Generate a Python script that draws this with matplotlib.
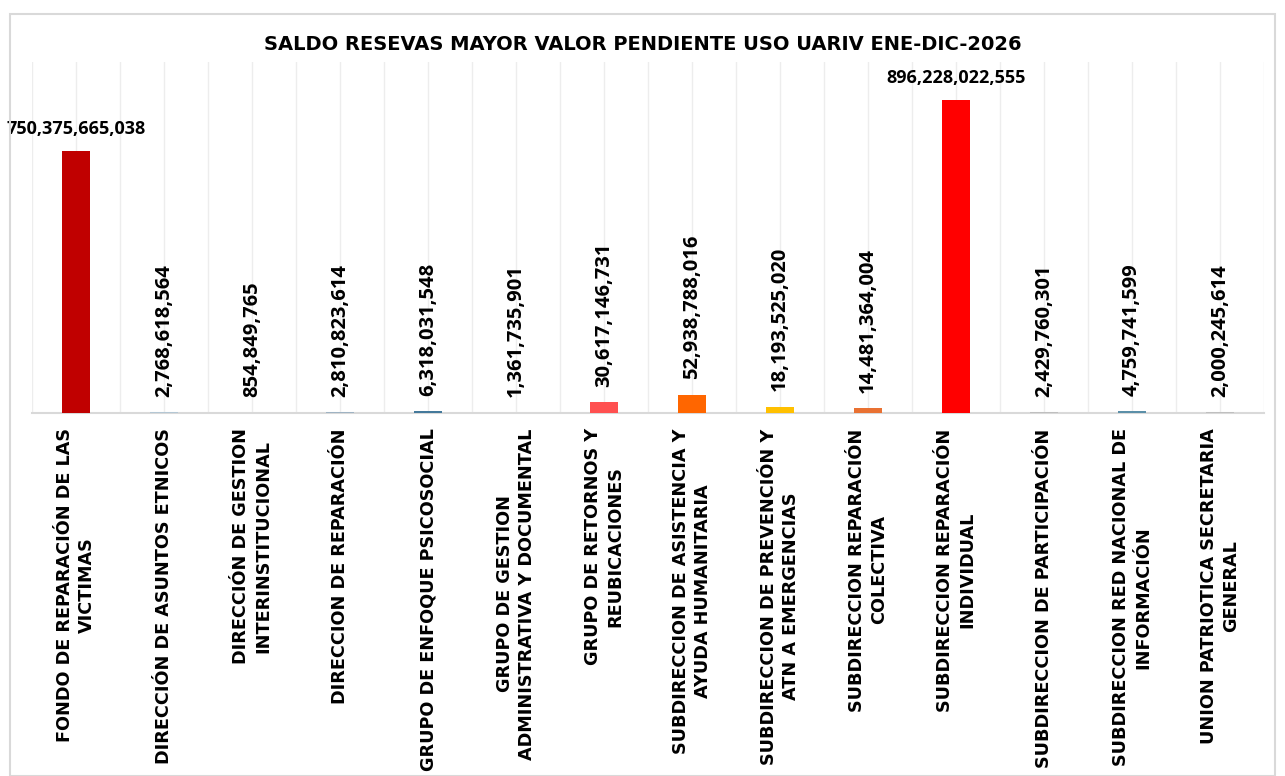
import matplotlib.pyplot as plt
from matplotlib.patches import Rectangle

plt.rcParams['font.family'] = ['DejaVu Sans']
NUM_FONT = ['Open Sans', 'DejaVu Sans']

# data
categorias = [
    "FONDO DE REPARACIÓN DE LAS\nVICTIMAS",
    "DIRECCIÓN DE ASUNTOS ETNICOS",
    "DIRECCIÓN DE GESTION\nINTERINSTITUCIONAL",
    "DIRECCION DE REPARACIÓN",
    "GRUPO DE ENFOQUE PSICOSOCIAL",
    "GRUPO DE GESTION\nADMINISTRATIVA Y DOCUMENTAL",
    "GRUPO DE RETORNOS Y\nREUBICACIONES",
    "SUBDIRECCION DE ASISTENCIA Y\nAYUDA HUMANITARIA",
    "SUBDIRECCION DE PREVENCIÓN Y\nATN A EMERGENCIAS",
    "SUBDIRECCION REPARACIÓN\nCOLECTIVA",
    "SUBDIRECCION REPARACIÓN\nINDIVIDUAL",
    "SUBDIRECCION DE PARTICIPACIÓN",
    "SUBDIRECCION RED NACIONAL DE\nINFORMACIÓN",
    "UNION PATRIOTICA SECRETARIA\nGENERAL",
]
saldos = [
    750375665038, 2768618564, 854849765, 2810823614, 6318031548,
    1361735901, 30617146731, 52938788016, 18193525020, 14481364004,
    896228022555, 2429760301, 4759741599, 2000245614,
]
colores = [
    "#C00000", "#B4C7D4", "#A6A6A6", "#9FB3C3", "#44799B",
    "#BFBFBF", "#FF5050", "#FF6600", "#FFC000", "#E97132",
    "#FF0000", "#BFBFBF", "#5B8FA8", "#BFBFBF",
]
titulo = "SALDO RESEVAS MAYOR VALOR PENDIENTE USO UARIV ENE-DIC-2026"

fig = plt.figure(figsize=(12.85, 7.76), dpi=100)
fig.patches.append(Rectangle((10 / 1285, 0), 1 - 20 / 1285, 1 - 14 / 776,
                             transform=fig.transFigure, fill=False,
                             edgecolor="#D9D9D9", linewidth=1.5))
ax = fig.add_axes([32 / 1285, (776 - 413) / 776, 1232 / 1285, 351 / 776])

x = list(range(len(categorias)))
ax.bar(x, saldos, width=0.32, color=colores, zorder=3)

ax.set_xlim(-0.5, len(categorias) - 0.5)
ax.set_ylim(0, 1.005e12)

ax.set_xticks(x)
ax.set_xticks([i - 0.5 for i in range(len(categorias) + 1)], minor=True)
ax.set_xticklabels(categorias, rotation=90, fontsize=12.7, fontweight="bold",
                   multialignment="center", linespacing=1.3)
ax.tick_params(axis="x", which="both", length=0, pad=11)
ax.set_yticks([])
ax.grid(axis="x", which="both", color="#EDEDED", linewidth=1, zorder=0)

for s in ["top", "right", "left"]:
    ax.spines[s].set_visible(False)
ax.spines["bottom"].set_color("#D9D9D9")
ax.spines["bottom"].set_linewidth(1.5)

for xi, v in zip(x, saldos):
    txt = f"{v:,.0f}"
    if v > 5e11:
        ax.annotate(txt, (xi, v), xytext=(0, 9), textcoords="offset points",
                    ha="center", va="bottom", fontsize=13, fontweight="bold",
                    family=NUM_FONT)
    else:
        ax.annotate(txt, (xi, v), xytext=(0, 11), textcoords="offset points",
                    ha="center", va="bottom", rotation=90, fontsize=14.5,
                    fontweight="bold", family=NUM_FONT)

fig.text(0.5, 1 - 45 / 776, titulo, ha="center", va="center", fontsize=14,
         fontweight="bold")

fig.savefig("out.png", dpi=100)
